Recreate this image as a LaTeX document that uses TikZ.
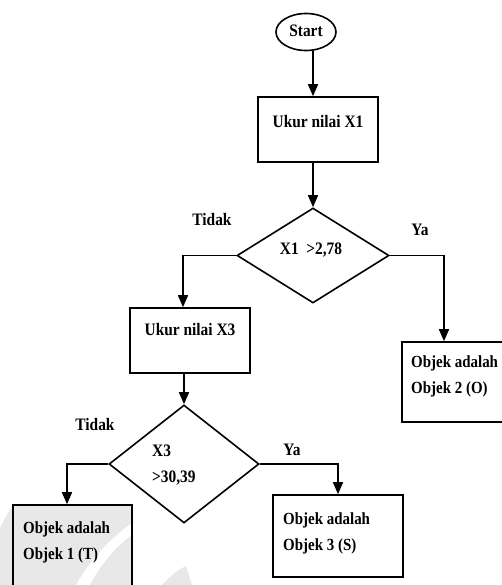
\documentclass[tikz,border=0pt]{standalone}
\usepackage{fontspec}
\setmainfont{Liberation Serif}
\newfontfamily\scanfont{Liberation Serif}[FakeStretch=0.88,BoldFont={Liberation Serif Bold}]
\usetikzlibrary{shapes.geometric,arrows.meta}
\tikzset{
  ln/.style={line width=1.6pt},
  arr/.style={ln,-{Triangle[length=12pt,width=10pt]}},
  boxnode/.style={draw,ln,rectangle,inner sep=0pt},
  dianode/.style={draw,ln,diamond,inner sep=0pt},
  lbl/.style={inner sep=0pt,font=\scanfont\bfseries\fontsize{17.5}{26}\selectfont},
  lblb/.style={lbl,font=\scanfont\bfseries\fontsize{17}{26}\selectfont},
  wm/.style={fill=black!9,draw=none}
}
\begin{document}
\begin{tikzpicture}[x=1pt,y=-1pt]
\useasboundingbox (0,0) rectangle (502,585);
\clip (0,0) rectangle (502,585);
\fill[white] (0,0) rectangle (502,585);
% faint watermark
\fill[wm] (0,528) .. controls (5,518) and (9,511) .. (13,505) -- (133,505) -- (133,522)
  .. controls (110,538) and (90,560) .. (76,585) -- (0,585) -- cycle;
\fill[wm] (90,585) .. controls (102,562) and (118,545) .. (133,534) -- (133,585) -- cycle;
\fill[wm] (162,585) .. controls (170,576) and (178,570) .. (186,566) -- (192,585) -- cycle;
% nodes
\node[draw,ln,ellipse,minimum width=60pt,minimum height=37pt,inner sep=0pt] (start) at (306,32) {};
\node[lbl] (tstart) at (306,31) {Start};
\node[boxnode,minimum width=120pt,minimum height=65pt] (b1) at (318,129.5) {};
\node[lbl] (tb1) at (318,122) {Ukur nilai X1};
\node[dianode,minimum width=152pt,minimum height=95pt] (d1) at (313,255.5) {};
\node[lbl] (td1) at (311,250) {X1\ \ >2,78};
\node[lbl] (tidak1) at (212,220) {Tidak};
\node[lbl] (ya1) at (420,230) {Ya};
\coordinate (k1) at (183,255.5);
\coordinate (k2) at (444,255.5);
\node[boxnode,minimum width=120pt,minimum height=65pt] (b3) at (190,340.5) {};
\node[lbl] (tb3) at (190,330) {Ukur nilai X3};
\node[boxnode,minimum width=118pt,minimum height=80pt] (b2) at (461,382) {};
\node[lblb,anchor=west,align=left] (tb2) at (411,376.5) {Objek adalah\\Objek 2 (O)};
\node[dianode,minimum width=150pt,minimum height=118pt] (d2) at (184,464) {};
\node[lbl,anchor=west,align=left] (td2) at (152,465) {X3\\>30,39};
\node[lbl] (tidak2) at (95,425) {Tidak};
\node[lbl] (ya2) at (292,450) {Ya};
\coordinate (k3) at (67,464);
\coordinate (k4) at (338,464);
\node[boxnode,minimum width=119pt,minimum height=115pt] (bT) at (72.5,562.5) {};
\node[lblb,anchor=west,align=left] (tbT) at (23,542.5) {Objek adalah\\Objek 1 (T)};
\node[boxnode,minimum width=130pt,minimum height=82pt] (bS) at (338,536) {};
\node[lblb,anchor=west,align=left] (tbS) at (283,533) {Objek adalah\\Objek 3 (S)};
% connectors
\draw[arr] (start.south -| d1.north) -- (b1.north -| d1.north);
\draw[arr] (b1.south -| d1.north) -- (d1.north);
\draw[arr] (d1.west) -- (k1) -- (k1 |- b3.north);
\draw[arr] (d1.east) -- (k2) -- (k2 |- b2.north);
\draw[arr] (b3.south -| d2.north) -- (d2.north);
\draw[arr] (d2.west) -- (k3) -- (k3 |- bT.north);
\draw[arr] (d2.east) -- (k4) -- (k4 |- bS.north);
\end{tikzpicture}
\end{document}
